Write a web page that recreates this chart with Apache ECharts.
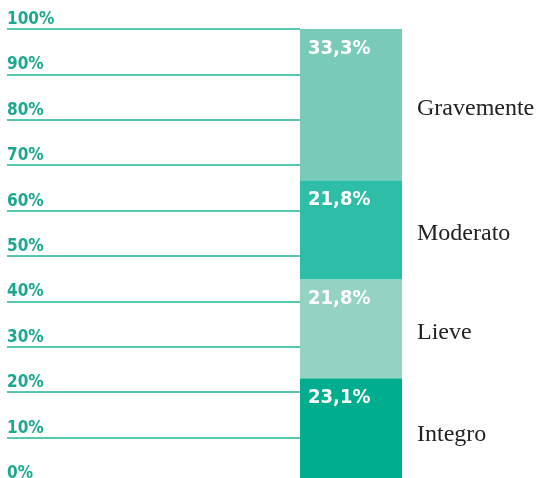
<!DOCTYPE html>
<html>
<head>
<meta charset="utf-8">
<script src="https://cdn.jsdelivr.net/npm/echarts@6/dist/echarts.min.js"></script>
<style>
  html, body { margin: 0; padding: 0; background: #fff; overflow: hidden; }
  #chart { width: 538px; height: 483px; }
</style>
</head>
<body>
<div id="chart"></div>
<script>
// segments from bottom to top
const levels = ['Integro', 'Lieve', 'Moderato', 'Gravemente']
const shares = [23.1, 21.8, 21.8, 33.3]
const colors = ['#00ad8e', '#94d2c4', '#2ebda6', '#79cab9']
const yTicks = [0, 10, 20, 30, 40, 50, 60, 70, 80, 90, 100]

const chart = echarts.init(document.getElementById('chart'))

const narrow = 'Liberation Sans Narrow, DejaVu Sans Condensed, sans-serif'
const fmtPct = v => v.toFixed(1).replace('.', ',') + '%'

const series = []
levels.forEach((name, i) => {
  // visible segment with percentage
  series.push({
    name: name,
    type: 'bar',
    stack: 'a',
    xAxisIndex: 1,
    yAxisIndex: 1,
    barWidth: '100%',
    data: [shares[i]],
    itemStyle: { color: colors[i] },
    label: {
      show: true,
      position: [8, 10],
      color: '#fff',
      fontFamily: narrow,
      fontWeight: 'bold',
      fontSize: 20,
      formatter: p => fmtPct(p.value)
    },
    emphasis: { disabled: true },
    silent: true,
  })
  // invisible twin carrying the category name to the right
  series.push({
    name: name + '_lbl',
    type: 'bar',
    stack: 'b',
    xAxisIndex: 1,
    yAxisIndex: 1,
    barWidth: '100%',
    barGap: '-100%',
    data: [shares[i]],
    itemStyle: { color: 'transparent' },
    label: {
      show: true,
      position: 'right',
      distance: 15,
      offset: [0, 4],
      color: '#222',
      fontFamily: 'Liberation Serif, DejaVu Serif, serif',
      fontSize: 24,
      formatter: () => name
    },
    emphasis: { disabled: true },
    silent: true,
  })
})

chart.setOption({
  animation: false,
  grid: [
    { left: 7, top: 29, width: 293, bottom: 0 },
    { left: 300, top: 29, width: 102, bottom: 0 }
  ],
  xAxis: [
    { type: 'category', gridIndex: 0, data: [''], show: false },
    { type: 'category', gridIndex: 1, data: ['Totale'], show: false }
  ],
  yAxis: [
    {
      type: 'value', gridIndex: 0, min: 0, max: 100, interval: 10,
      axisLine: { show: false },
      axisTick: { show: false },
      splitLine: { show: true, lineStyle: { color: '#1fb596', width: 1.5 } },
      axisLabel: {
        inside: true,
        margin: 0,
        showMinLabel: true,
        showMaxLabel: true,
        verticalAlign: 'bottom',
        lineHeight: 17,
        padding: [0, 0, 1, 0],
        color: '#1aa98e',
        fontFamily: narrow,
        fontWeight: 'bold',
        fontSize: 17,
        formatter: v => yTicks.includes(v) ? v + '%' : ''
      }
    },
    { type: 'value', gridIndex: 1, min: 0, max: 100, show: false }
  ],
  series: series
})
</script>
</body>
</html>
